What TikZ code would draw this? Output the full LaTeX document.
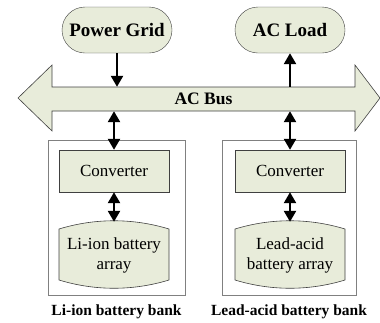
\documentclass[tikz,border=0pt]{standalone}
\usepackage{fontspec}
\setmainfont{Liberation Serif}
\usetikzlibrary{positioning,arrows.meta}
\definecolor{boxfill}{RGB}{232,236,218}
\definecolor{boxline}{RGB}{64,64,64}
\definecolor{bankline}{RGB}{128,128,128}
\tikzset{
  pill/.style={
    draw=boxline,
    fill=boxfill,
    rounded corners=23pt,
    minimum width=110pt,
    minimum height=46pt,
    font=\fontsize{19}{21}\selectfont\bfseries
  },
  conv/.style={
    draw=boxline,
    fill=boxfill,
    minimum width=110pt,
    minimum height=42pt,
    font=\fontsize{17}{19}\selectfont
  },
  cell/.style={
    align=center,
    inner sep=0pt,
    font=\fontsize{17}{20}\selectfont
  },
  bank/.style={
    draw=bankline,
    minimum width=137pt,
    minimum height=155pt
  },
  banklabel/.style={
    font=\fontsize{15.5}{17}\selectfont\bfseries
  },
  flow/.style={
    -{Triangle[length=11pt,width=12pt]},
    line width=2.4pt
  },
  biflow/.style={
    flow,
    {Triangle[length=11pt,width=12pt]}-{Triangle[length=11pt,width=12pt]}
  }
}
\begin{document}
\begin{tikzpicture}[x=1pt,y=-1pt]
  \useasboundingbox (0,0) rectangle (380,322);

  % Sources and loads
  \node[pill] (grid) at (117,30) {Power Grid};
  \node[pill] (load) at (290,30) {AC Load};

  % AC bus
  \draw[boxline, fill=boxfill, line width=0.6pt]
    (18,98) -- (52,65) -- (52,87) -- (355,87) -- (355,65) -- (380,98)
    -- (355,131) -- (355,111) -- (52,111) -- (52,131) -- cycle;
  \node[minimum width=303pt, minimum height=24pt, inner sep=0pt,
    font=\fontsize{17.5}{19}\selectfont\bfseries] (bus) at (203.5,99) {AC Bus};

  % Battery banks
  \node[bank] (lbank) at (116.5,217.5) {};
  \node[bank, minimum width=134pt] (rbank) at (289,217.5) {};
  \node[banklabel, below=6pt of lbank] (llabel) {Li-ion battery bank};
  \node[banklabel, below=6pt of rbank] (rlabel) {Lead-acid battery bank};

  % Converters
  \node[conv] (lconv) at (114,171) {Converter};
  \node[conv] (rconv) at (290,171) {Converter};

  % Battery arrays
  \draw[boxline, fill=boxfill, line width=0.6pt]
    (59,229) .. controls (95,218) and (133,218) .. (169,229) -- (169,280)
    .. controls (133,291) and (95,291) .. (59,280) -- cycle;
  \draw[boxline, fill=boxfill, line width=0.6pt]
    (235,229) .. controls (271,218) and (309,218) .. (345,229) -- (345,280)
    .. controls (309,291) and (271,291) .. (235,280) -- cycle;
  \node[cell, minimum height=66pt] (lbat) at (114,255) {Li-ion battery\\array};
  \node[cell, minimum height=66pt] (rbat) at (290,255) {Lead-acid\\battery array};

  % Connections
  \draw[flow] (grid.south) -- (grid.south |- bus.north);
  \draw[flow] (load.south |- bus.north) -- (load.south);
  \draw[biflow] (lconv.north |- bus.south) -- (lconv.north);
  \draw[biflow] (rconv.north |- bus.south) -- (rconv.north);
  \draw[biflow] (lconv.south) -- (lbat.north);
  \draw[biflow] (rconv.south) -- (rbat.north);
\end{tikzpicture}
\end{document}
